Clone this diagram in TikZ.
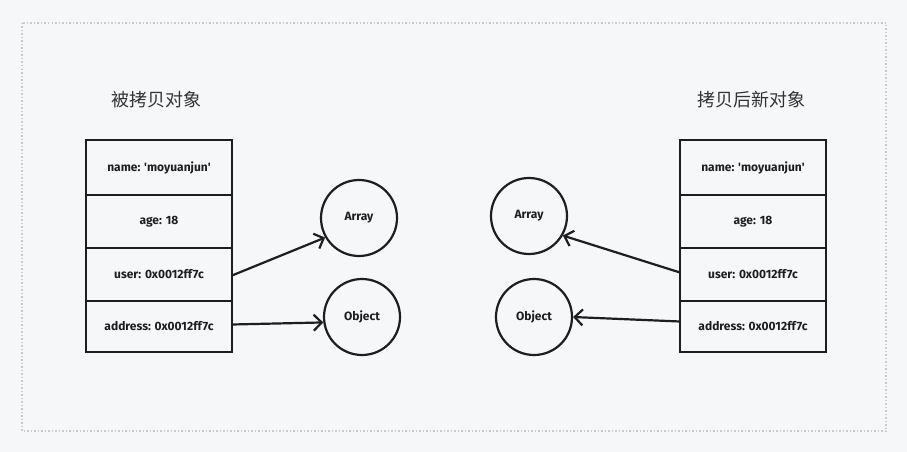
\documentclass[tikz,border=0pt]{standalone}
\usepackage{fontspec}
\setmainfont{Fira Sans}
\newfontfamily\cjk{Noto Sans CJK SC}
\usetikzlibrary{arrows.meta,positioning}
\definecolor{bgcol}{HTML}{F6F7F9}
\definecolor{ink}{HTML}{1E1E1E}
\definecolor{framecol}{HTML}{C8CACE}
\begin{document}
\begin{tikzpicture}[
  x=1pt, y=-1pt,
  font=\fontsize{12}{14}\selectfont\bfseries,
  cell/.style={draw=ink, line width=2.2pt, minimum width=146pt, outer sep=0pt, inner sep=0pt, text=ink},
  obj/.style={draw=ink, line width=2.2pt, circle, minimum size=76pt, text=ink},
  title/.style={font=\cjk\fontsize{18}{20}\selectfont, text=black!80},
  arrow/.style={-{Straight Barb[length=8pt, width=16pt]}, line width=2.2pt, draw=ink}
]
\fill[bgcol] (0,0) rectangle (907,452);
\draw[framecol, line width=1.5pt, dash pattern=on 1.5pt off 2pt] (22,23) rectangle (886,431);

% source object
\node[cell, minimum height=55pt, anchor=north west] (sname) at (86,140) {name: \textquotesingle moyuanjun\textquotesingle};
\node[cell, minimum height=53pt, below=0pt of sname] (sage) {age: 18};
\node[cell, minimum height=53pt, below=0pt of sage] (suser) {user: 0x0012ff7c};
\node[cell, minimum height=51pt, below=0pt of suser] (saddr) {address: 0x0012ff7c};
\node[title] (stitle) at (156,100) {被拷贝对象};

\node[obj] (sarr) at (359,218) {Array};
\node[obj] (sobj) at (362,317) {Object};

% copied object
\node[cell, minimum height=55pt, anchor=north west] (tname) at (680,140) {name: \textquotesingle moyuanjun\textquotesingle};
\node[cell, minimum height=53pt, below=0pt of tname] (tage) {age: 18};
\node[cell, minimum height=53pt, below=0pt of tage] (tuser) {user: 0x0012ff7c};
\node[cell, minimum height=51pt, below=0pt of tuser] (taddr) {address: 0x0012ff7c};
\node[title] (ttitle) at (751,100) {拷贝后新对象};

\node[obj] (tarr) at (529,216) {Array};
\node[obj] (tobj) at (534,317) {Object};

\draw[arrow] (suser.east) ++(0,1) coordinate (a1) (a1) -- (sarr.210);
\draw[arrow] (saddr.east) ++(0,-2) coordinate (a2) (a2) -- (sobj.188);
\draw[arrow] (tuser.west) ++(0,-2) coordinate (a3) (a3) -- (tarr.-30);
\draw[arrow] (taddr.west) ++(0,-5) coordinate (a4) (a4) -- (tobj.east);
\end{tikzpicture}
\end{document}
